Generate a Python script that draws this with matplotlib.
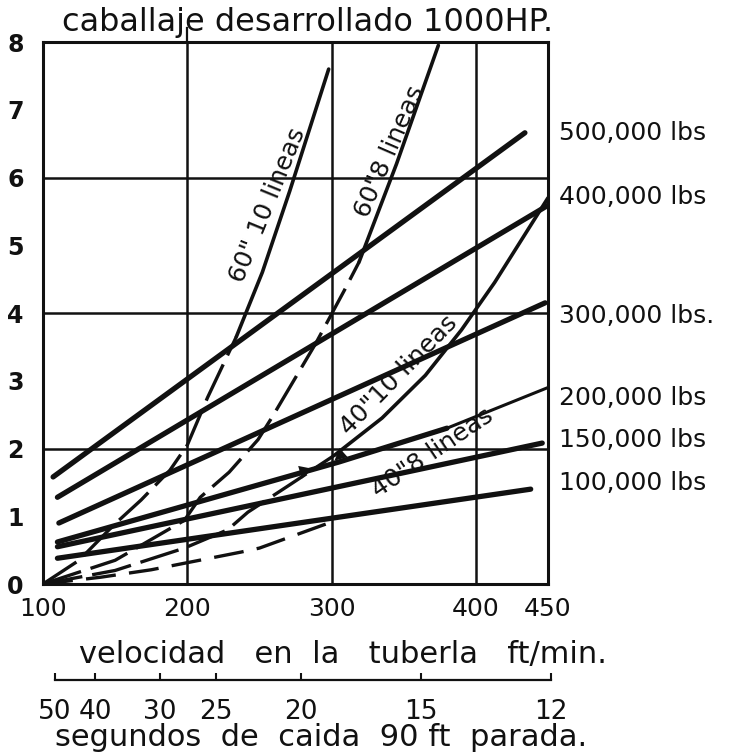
import matplotlib
matplotlib.use('Agg')
import matplotlib.pyplot as plt
import matplotlib.transforms as mtransforms

# --- values ---
vel_ticks = [100, 200, 300, 400, 450]          # velocidad en la tuberia, ft/min
hp_ticks = [0, 1, 2, 3, 4, 5, 6, 7, 8]         # caballaje, 1000 HP

# heavy load lines (x = ft/min, y = 1000 HP)
load_labels = ['500,000 lbs', '400,000 lbs', '300,000 lbs.',
               '200,000 lbs', '150,000 lbs', '100,000 lbs']
load_x = [[107, 434], [110, 450], [111, 448], [110, 305, 380, 450], [110, 446], [110, 438]]
load_y = [[1.58, 6.66], [1.28, 5.59], [0.90, 4.15], [0.62, 1.80, 2.30, 2.90], [0.55, 2.08], [0.38, 1.40]]
load_label_y = [6.66, 5.71, 3.96, 2.75, 2.13, 1.49]

# rope curves, starting at the origin
rope_labels = ['60" 10 lineas', '60"8 lineas', '40"10 lineas', '40"8 lineas']
rope_x = [
    [100, 125, 149, 168, 188, 200, 214, 234, 252, 271, 298],
    [100, 150, 198, 209, 229, 249, 259, 289, 309, 319, 345, 374],
    [100, 150, 198, 228, 242, 270, 302, 335, 365, 390, 413, 450],
    [100, 140, 175, 237, 250, 298],
]
rope_y = [
    [0, 0.35, 0.87, 1.24, 1.68, 2.05, 2.75, 3.65, 4.6, 5.8, 7.6],
    [0, 0.35, 0.94, 1.28, 1.65, 2.13, 2.47, 3.55, 4.34, 4.75, 6.2, 7.95],
    [0, 0.2, 0.53, 0.8, 1.06, 1.45, 1.9, 2.45, 3.08, 3.75, 4.45, 5.7],
    [0, 0.1, 0.21, 0.47, 0.53, 0.9],
]

# secondary scale: seconds to fall 90 ft, placed at the velocity where drawn
sec_labels = ['50', '40', '30', '25', '20', '15', '12']
sec_at_vel = [108, 136, 181, 220, 279, 362, 452]

# --- styling / placement ---
W, H = 747, 752
solid_from = [7, 9, 6, None]                 # index where the rope curve turns solid
thin_tail = [False, False, False, True, False, False]
rope_text_xy = [(255.5, 5.59), (340.0, 6.38), (346.5, 3.08), (369.7, 1.93)]
rope_text_rot = [67.7, 66.5, 45.6, 34]
INK = '#111111'

plt.rcParams['font.family'] = ['DejaVu Sans']

fig = plt.figure(figsize=(W / 100, H / 100), dpi=100)
ax = fig.add_axes([43 / W, 168 / H, 505 / W, 542 / H])
ax.set_xlim(vel_ticks[0], vel_ticks[-1])
ax.set_ylim(hp_ticks[0], hp_ticks[-1])

for s in ax.spines.values():
    s.set_linewidth(2.2)
    s.set_color(INK)

# grid lines
for v in vel_ticks[1:-1]:
    ax.axvline(v, color=INK, lw=1.8, zorder=1)
ax.axvline(vel_ticks[1], ymin=1.0, ymax=1.025, color=INK, lw=1.6, clip_on=False)
for h in hp_ticks[2:-1:2]:
    ax.axhline(h, color=INK, lw=1.8, zorder=1)

# load lines
for xs, ys, thin in zip(load_x, load_y, thin_tail):
    if thin:
        ax.plot(xs[:-1], ys[:-1], color=INK, lw=3.8, solid_capstyle='round', zorder=3)
        ax.plot(xs[-2:], ys[-2:], color=INK, lw=2.2, solid_capstyle='round', zorder=3)
    else:
        ax.plot(xs, ys, color=INK, lw=3.8, solid_capstyle='round', zorder=3)

# rope curves
for xs, ys, k in zip(rope_x, rope_y, solid_from):
    if k is None:
        ax.plot(xs, ys, color=INK, lw=2.4, ls=(0, (9, 4)), zorder=3)
    else:
        ax.plot(xs[:k + 1], ys[:k + 1], color=INK, lw=2.4, ls=(0, (12, 3)), zorder=3)
        ax.plot(xs[k:], ys[k:], color=INK, lw=2.6, solid_capstyle='round', zorder=3)

for txt, (tx, ty), rot in zip(rope_labels, rope_text_xy, rope_text_rot):
    ax.text(tx, ty, txt, rotation=rot, rotation_mode='anchor', ha='center', va='center',
            fontsize=18, color=INK, zorder=4)

# small arrow heads drawn on the chart
ax.annotate('', xy=(rope_x[2][6], rope_y[2][6] - 0.08), xytext=(rope_x[2][7], rope_y[2][7]),
            arrowprops=dict(arrowstyle='-|>', color=INK, lw=0, mutation_scale=22,
                            shrinkA=25, shrinkB=0), zorder=4)
ax.annotate('', xy=(287, 1.70), xytext=(270, 1.60),
            arrowprops=dict(arrowstyle='-|>', color=INK, lw=0, mutation_scale=24,
                            shrinkA=0, shrinkB=0), zorder=4)

# ticks
ax.set_xticks(vel_ticks)
ax.set_xticklabels([str(v) for v in vel_ticks], fontsize=18, color=INK)
ax.set_yticks(hp_ticks)
ax.set_yticklabels([str(h) for h in hp_ticks], fontsize=17, fontweight='bold', color=INK)
ax.tick_params(axis='x', length=0, pad=9)
ax.tick_params(axis='y', length=0, pad=14)

# load labels on the right
tr = mtransforms.blended_transform_factory(ax.transAxes, ax.transData)
for lab, ly in zip(load_labels, load_label_y):
    ax.text(1.022, ly, lab, transform=tr, ha='left', va='center', fontsize=18, color=INK)

# titles
fig.text(62 / W, 1 - 22 / H, 'caballaje desarrollado 1000HP.', ha='left', va='center',
         fontsize=23, color=INK)
fig.text(79 / W, 1 - 654 / H, 'velocidad   en  la   tuberla   ft/min.', ha='left', va='center',
         fontsize=22, color=INK)
fig.text(55 / W, 1 - 738 / H, 'segundos  de  caida  90 ft  parada.', ha='left', va='center',
         fontsize=22, color=INK)

# secondary seconds scale
ax2 = fig.add_axes([43 / W, 1 - 680 / H, 505 / W * (455 - 100) / 350, 0.0005])
ax2.set_xlim(100, 455)
ax2.set_yticks([])
for name in ['top', 'left', 'right']:
    ax2.spines[name].set_visible(False)
ax2.spines['bottom'].set_bounds(sec_at_vel[0], sec_at_vel[-1])
ax2.spines['bottom'].set_linewidth(1.6)
ax2.spines['bottom'].set_color(INK)
ax2.set_xticks(sec_at_vel)
ax2.set_xticklabels(sec_labels, fontsize=19, color=INK)
ax2.tick_params(axis='x', direction='in', length=5, width=1.5, pad=14, colors=INK)
ax2.patch.set_visible(False)

fig.savefig('out.png', dpi=100, facecolor='white')
